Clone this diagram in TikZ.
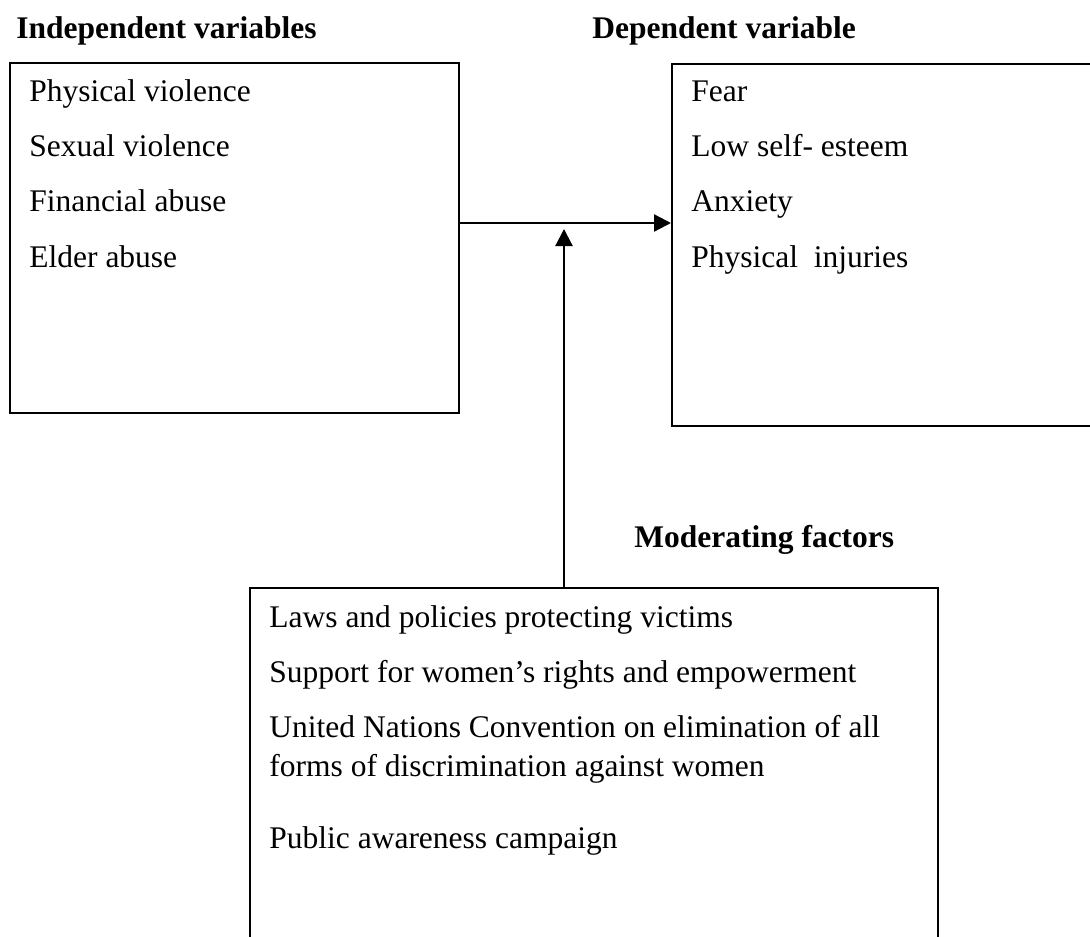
\documentclass[tikz,border=0pt]{standalone}
\usepackage{fontspec}
\setmainfont{Liberation Serif}
\usetikzlibrary{arrows.meta}

\begin{document}
\begin{tikzpicture}[x=0.5pt, y=-0.5pt,
        box/.style={draw, line width=1pt, anchor=north west, inner sep=0pt},
        item/.style={anchor=base west, inner sep=0pt, font=\fontsize{15.75}{18}\selectfont},
        head/.style={item, font=\fontsize{15.75}{18}\selectfont\bfseries},
        conn/.style={line width=1.1pt, -{Triangle[length=8.5pt, width=8.5pt]}}]
        \clip (0,0) rectangle (1090,936);

        % Independent variables
        \node[head] (ivhead) at (16,39) {Independent variables};
        \node[box, minimum width=224.5pt, minimum height=175pt] (ivbox) at (9,62) {};
        \node[item] (iv1) at (29,102) {Physical violence};
        \node[item] (iv2) at (29,157) {Sexual violence};
        \node[item] (iv3) at (29,212) {Financial abuse};
        \node[item] (iv4) at (29,267) {Elder abuse};

        % Dependent variable
        \node[head] (dvhead) at (592,39) {Dependent variable};
        \node[box, minimum width=215pt, minimum height=181pt] (dvbox) at (671,63) {};
        \node[item] (dv1) at (691,102) {Fear};
        \node[item] (dv2) at (691,157) {Low self- esteem};
        \node[item] (dv3) at (691,212) {Anxiety};
        \node[item] (dv4) at (691,267) {Physical\ \ injuries};

        % Moderating factors
        \node[head] (mfhead) at (634,547) {Moderating factors};
        \node[box, minimum width=344pt, minimum height=187pt] (mfbox) at (249,587) {};
        \node[item] (mf1) at (269,627) {Laws and policies protecting victims};
        \node[item] (mf2) at (269,682) {Support for women’s rights and empowerment};
        \node[item] (mf3) at (269,737) {United Nations Convention on elimination of all};
        \node[item] (mf4) at (269,776) {forms of discrimination against women};
        \node[item] (mf5) at (269,848) {Public awareness campaign};

        \coordinate (hy) at (0,223);
        \coordinate (vtip) at (564,229);
        \draw[conn] (ivbox.east |- hy) -- (dvbox.west |- hy);
        \draw[conn] (mfbox.north -| vtip) -- (vtip);
    \end{tikzpicture}
\end{document}
